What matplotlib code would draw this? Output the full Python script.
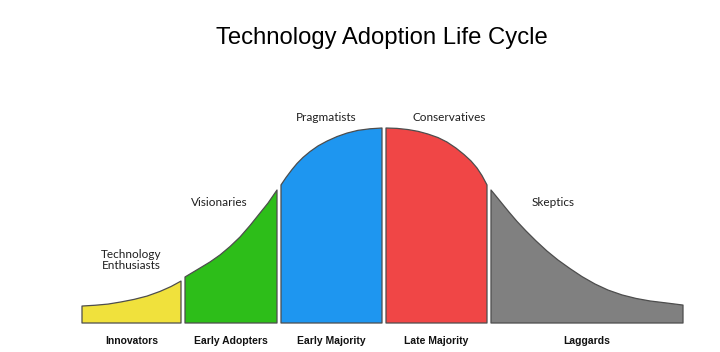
import matplotlib
matplotlib.use("Agg")
import matplotlib.pyplot as plt

# adoption segments (bottom labels) and the kind of buyer in each (upper labels)
segments = ["Innovators", "Early Adopters", "Early Majority", "Late Majority", "Laggards"]
groups = ["Technology\nEnthusiasts", "Visionaries", "Pragmatists", "Conservatives", "Skeptics"]
colors = ["#F0E13C", "#2DBE19", "#1E96F0", "#F04646", "#808080"]

# curve: position along the adoption axis and relative height (% of peak)
innov_x = [0, 13, 26, 39, 52, 65, 78, 89, 99]
innov_h = [8.7, 9.1, 9.7, 10.8, 12.1, 13.8, 16.2, 18.7, 21.5]
early_ad_x = [103, 118, 128, 138, 148, 158, 168, 178, 186, 195]
early_ad_h = [23.6, 28.2, 31.3, 34.9, 39.2, 44.1, 50.0, 56.4, 61.5, 68.2]
early_maj_x = [199, 204, 210, 215, 221, 228, 236, 245, 255, 265, 276, 288, 300]
early_maj_h = [70.8, 74.6, 78.7, 81.8, 84.9, 87.9, 90.8, 93.3, 95.6, 97.4, 98.8, 99.6, 100]
late_maj_x = [304, 315, 326, 336, 346, 356, 365, 374, 382, 389, 395, 400, 405]
late_maj_h = [100, 99.8, 99.2, 98.3, 96.9, 95.1, 92.8, 89.7, 86.4, 83.1, 79.5, 75.6, 70.8]
lagg_x = [409, 414, 420, 427, 435, 444, 454, 465, 476, 488, 500, 513, 526, 540, 554, 568, 584, 601]
lagg_h = [68.2, 65.1, 61.3, 56.9, 52.1, 47.2, 42.1, 36.9, 32.3, 27.9, 23.8, 20.0, 16.9,
          14.4, 12.6, 11.3, 10.3, 9.2]

curves = [(innov_x, innov_h), (early_ad_x, early_ad_h), (early_maj_x, early_maj_h),
          (late_maj_x, late_maj_h), (lagg_x, lagg_h)]

fig = plt.figure(figsize=(7.2, 3.52), dpi=100)
ax = fig.add_axes([0, 0, 1, 1])
ax.set_xlim(-82, 638)
ax.set_ylim(-14.87, 165.64)
ax.axis("off")

for (xs, hs), c in zip(curves, colors):
    px = [xs[0]] + xs + [xs[-1]]
    py = [0] + hs + [0]
    ax.fill(px, py, facecolor=c, edgecolor="#4d4d4d", linewidth=0.9, joinstyle="round")

# bottom labels centred under each segment
for (xs, hs), name in zip(curves, segments):
    ax.text((xs[0] + xs[-1]) / 2, -9.2, name, ha="center", va="center",
            fontsize=7.5, fontweight="bold", family="Liberation Sans", color="#111111")

# upper labels
label_pos = [(49, 32.3), (137.5, 62), (244, 105.6), (367, 105.6), (471, 62)]
for (lx, ly), name in zip(label_pos, groups):
    ax.text(lx, ly, name, ha="center", va="center", fontsize=8.5, family="Lato",
            color="#1f1f1f", linespacing=1.0)

ax.text(300, 146, "Technology Adoption Life Cycle", ha="center", va="center",
        fontsize=17.2, family="Liberation Sans", color="#000000")

fig.savefig("out.png", dpi=100, facecolor="white")
